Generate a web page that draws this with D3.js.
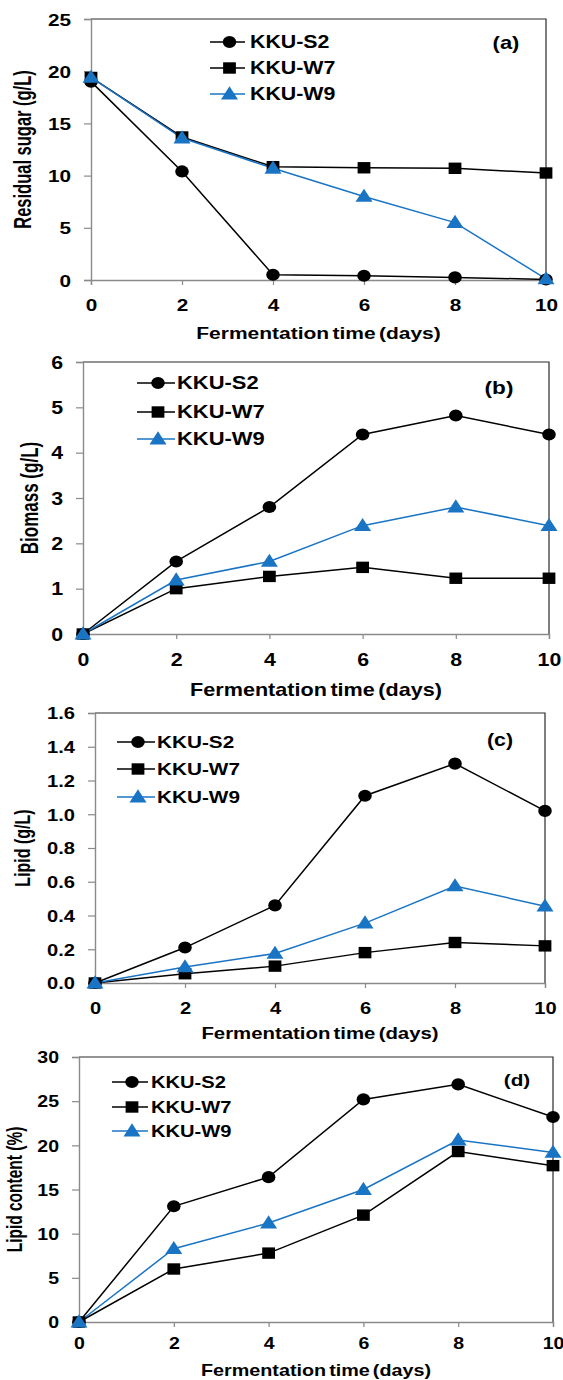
<!DOCTYPE html>
<html><head><meta charset="utf-8">
<script src="https://cdn.jsdelivr.net/npm/d3@7"></script>
<style>
html,body{margin:0;padding:0;background:#fff;}
svg{display:block;}
text{font-family:"Liberation Sans",Arial,sans-serif;font-weight:bold;fill:#000;}
</style></head>
<body>
<script>
// ---- data ----
const days = [0, 2, 4, 6, 8, 10];
const seriesNames = ["KKU-S2", "KKU-W7", "KKU-W9"];
const panelTags = ["(a)", "(b)", "(c)", "(d)"];
const xTitle = "Fermentation time (days)";
const yTitles = ["Residual sugar (g/L)", "Biomass (g/L)", "Lipid (g/L)", "Lipid content (%)"];
const xTicks = [0, 2, 4, 6, 8, 10];

const sugarS2 = [19.0, 10.4, 0.5, 0.4, 0.25, 0.05];
const sugarW7 = [19.4, 13.7, 10.85, 10.75, 10.7, 10.25];
const sugarW9 = [19.4, 13.6, 10.7, 8.0, 5.5, 0.1];
const sugarTicks = [0, 5, 10, 15, 20, 25];

const biomassS2 = [0, 1.6, 2.8, 4.4, 4.82, 4.4];
const biomassW7 = [0, 1.0, 1.27, 1.47, 1.23, 1.23];
const biomassW9 = [0, 1.19, 1.6, 2.39, 2.8, 2.39];
const biomassTicks = [0, 1, 2, 3, 4, 5, 6];

const lipidS2 = [0, 0.21, 0.46, 1.11, 1.30, 1.02];
const lipidW7 = [0, 0.055, 0.1, 0.18, 0.24, 0.22];
const lipidW9 = [0, 0.095, 0.175, 0.355, 0.575, 0.455];
const lipidTicks = [0, 0.2, 0.4, 0.6, 0.8, 1.0, 1.2, 1.4, 1.6];

const contentS2 = [0, 13.1, 16.4, 25.2, 26.9, 23.2];
const contentW7 = [0, 6.0, 7.8, 12.1, 19.3, 17.7];
const contentW9 = [0, 8.3, 11.2, 15.0, 20.6, 19.2];
const contentTicks = [0, 5, 10, 15, 20, 25, 30];

// ---- layout ----
const W = 563, H = 1380;
const SX = 1.22; // horizontal stretch of the original figure's text
const SXR = 1.4; // stretch of rotated titles
const BLUE = "#1a74c4";

const panels = [
  {series:[sugarS2, sugarW7, sugarW9], ticks:sugarTicks, fmt:d3.format("d"),
   left:91, right:546, top:19, bottom:280, xtickY:305, xtitleY:333, ytitleX:23,
   leg:[210,245,250,[42,68,94]], tag:[506,43], fs:16.5},
  {series:[biomassS2, biomassW7, biomassW9], ticks:biomassTicks, fmt:d3.format("d"),
   left:83, right:549, top:362, bottom:634, xtickY:660, xtitleY:690, ytitleX:29,
   leg:[137,175,177,[383,412,439]], tag:[499,387], fs:17},
  {series:[lipidS2, lipidW7, lipidW9], ticks:lipidTicks, fmt:d3.format(".1f"),
   left:95, right:545, top:713, bottom:983, xtickY:1008, xtitleY:1033, ytitleX:22,
   leg:[117,155,157,[742,769,797]], tag:[500,740], fs:16},
  {series:[contentS2, contentW7, contentW9], ticks:contentTicks, fmt:d3.format("d"),
   left:79, right:553, top:1057, bottom:1322, xtickY:1343, xtitleY:1370, ytitleX:14,
   leg:[112,148,151,[1082,1107,1131]], tag:[517,1080], fs:15.5}
];

const svg = d3.select("body").append("svg").attr("width", W).attr("height", H);

const colors = ["#000", "#000", BLUE];
const symbols = [d3.symbolCircle, d3.symbolSquare, d3.symbolTriangle];
const symSizes = [115, 130, 100];

function marker(g, i, x, y) {
  g.append("path")
    .attr("d", d3.symbol().type(symbols[i]).size(symSizes[i])())
    .attr("transform", `translate(${x},${y + (i === 2 ? 1 : 0)}) scale(1.12,1)`)
    .attr("fill", colors[i]);
}

panels.forEach((p, pi) => {
  const g = svg.append("g");
  const ymax = p.ticks[p.ticks.length - 1];
  const x = d3.scaleLinear().domain([0, 10]).range([p.left, p.right]);
  const y = d3.scaleLinear().domain([0, ymax]).range([p.bottom, p.top]);

  // top/right frame
  g.append("path")
    .attr("d", `M${p.left},${p.top}H${p.right}V${p.bottom}`)
    .attr("fill", "none").attr("stroke", "#2a2a2a").attr("stroke-width", 1.2);

  // y axis
  const ya = g.append("g").attr("transform", `translate(${p.left},0)`)
    .call(d3.axisLeft(y).tickValues(p.ticks).tickFormat(p.fmt).tickSizeOuter(0).tickSize(7).tickPadding(13));
  ya.select(".domain").attr("stroke", "#8a8a8a").attr("stroke-width", 1.4);
  ya.selectAll(".tick line").attr("stroke", "#8a8a8a").attr("stroke-width", 1.2);
  ya.selectAll(".tick text")
    .attr("x", -20 / SX).attr("dy", "0.36em")
    .attr("transform", `scale(${SX},1)`)
    .style("font-size", (p.fs + 0.5) + "px").style("font-family", "Liberation Sans, Arial, sans-serif").style("font-weight", "bold");

  // x axis
  const xa = g.append("g").attr("transform", `translate(0,${p.bottom})`)
    .call(d3.axisBottom(x).tickValues(xTicks).tickFormat(d3.format("d")).tickSizeOuter(0).tickSize(5));
  xa.select(".domain").attr("stroke", "#8a8a8a").attr("stroke-width", 1.4);
  xa.selectAll(".tick line").attr("stroke", "#8a8a8a").attr("stroke-width", 1.2);
  xa.selectAll(".tick text")
    .attr("y", p.xtickY - p.bottom).attr("dy", "0.36em").attr("x", 0)
    .attr("transform", `scale(${SX},1)`)
    .style("font-size", (p.fs + 0.5) + "px").style("font-family", "Liberation Sans, Arial, sans-serif").style("font-weight", "bold");

  // titles
  g.append("text")
    .attr("transform", `translate(${(p.left + p.right) / 2},${p.xtitleY}) scale(${SX},1)`)
    .attr("text-anchor", "middle").attr("dy", "0.36em")
    .style("font-size", (p.fs + 0.7) + "px").style("word-spacing", "-2px")
    .text(xTitle);
  g.append("text")
    .attr("transform", `translate(${p.ytitleX},${(p.top + p.bottom) / 2}) scale(${SXR},1) rotate(-90)`)
    .attr("text-anchor", "middle").attr("dy", "0.36em")
    .style("font-size", p.fs + "px")
    .text(yTitles[pi]);

  // series
  const line = d3.line().x((d, i) => x(days[i])).y(d => y(d));
  p.series.forEach((s, si) => {
    g.append("path").datum(s).attr("d", line)
      .attr("fill", "none").attr("stroke", colors[si]).attr("stroke-width", 1.5);
  });
  p.series.forEach((s, si) => {
    s.forEach((v, i) => marker(g, si, x(days[i]), y(v)));
  });

  // legend
  const [lx0, lx1, tx, rows] = p.leg;
  seriesNames.forEach((n, si) => {
    const ry = rows[si];
    g.append("line").attr("x1", lx0).attr("x2", lx1).attr("y1", ry).attr("y2", ry)
      .attr("stroke", colors[si]).attr("stroke-width", 1.5);
    marker(g, si, (lx0 + lx1) / 2 + 2, ry);
    g.append("text")
      .attr("transform", `translate(${tx},${ry}) scale(${SX},1)`)
      .attr("dy", "0.36em").style("font-size", (p.fs + 1) + "px")
      .text(n);
  });

  // panel tag
  g.append("text")
    .attr("transform", `translate(${p.tag[0]},${p.tag[1]}) scale(${SX},1)`)
    .attr("text-anchor", "middle").attr("dy", "0.36em")
    .style("font-size", (p.fs + 1.5) + "px")
    .text(panelTags[pi]);
});
</script>
</body></html>
